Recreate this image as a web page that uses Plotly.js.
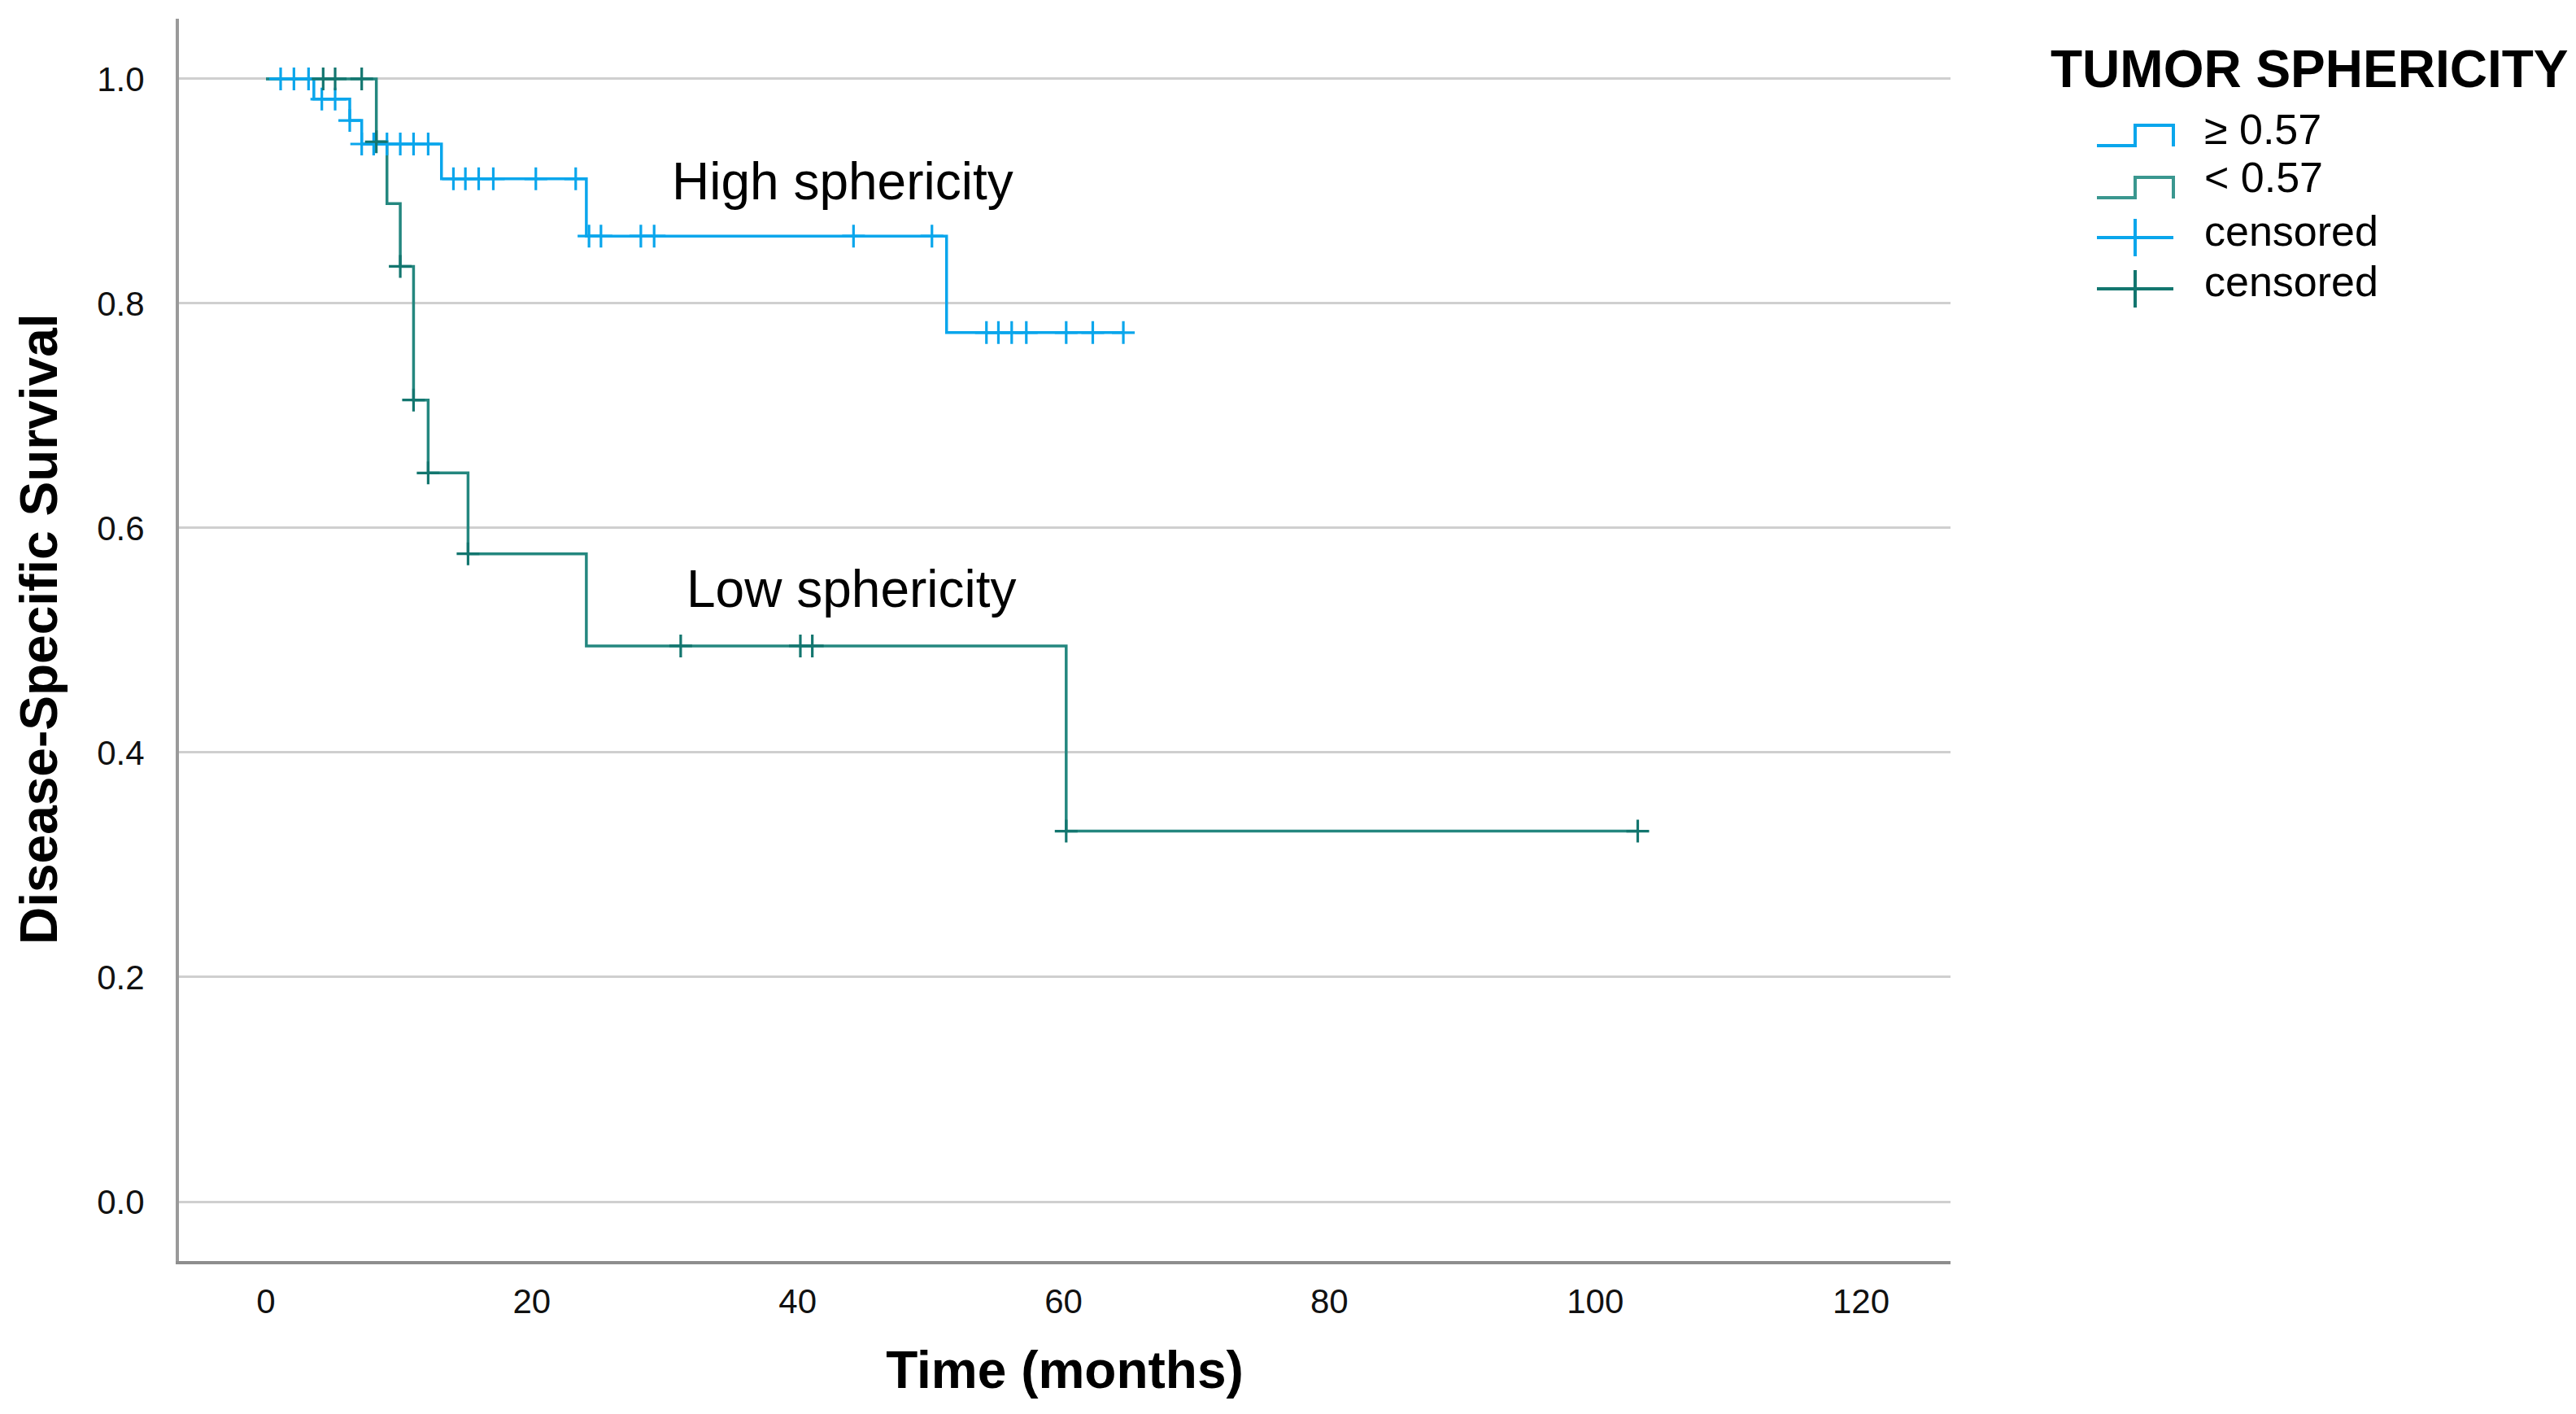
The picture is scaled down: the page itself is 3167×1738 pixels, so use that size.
<!DOCTYPE html>
<html>
<head>
<meta charset="utf-8">
<script src="https://cdn.plot.ly/plotly-3.0.1.min.js"></script>
<style>html,body{margin:0;padding:0;background:#fff;}#chart{width:3167px;height:1738px;}</style>
</head>
<body>
<div id="chart"></div>
<script>
// ---- Data ----
const highTimes = [0, 3.6, 6.3, 7.2, 13.2, 24.1, 51.2, 64.5];
const highSurv  = [1, 0.982, 0.963, 0.942, 0.911, 0.860, 0.774, 0.774];
const highCensorTimes = [1.1, 2.1, 3.2, 4.2, 5.2, 6.3, 7.2, 8.1, 9.1, 10.1, 11.1, 12.2,
  14.1, 15.0, 16.0, 17.1, 20.3, 23.3, 24.3, 25.2, 28.2, 29.2, 44.2, 50.1,
  54.2, 55.1, 56.1, 57.2, 60.2, 62.2, 64.5];

const lowTimes = [0, 8.3, 9.1, 10.1, 11.1, 12.2, 15.2, 24.1, 60.2, 103.2];
const lowSurv  = [1, 0.944, 0.889, 0.833, 0.714, 0.649, 0.577, 0.495, 0.330, 0.330];
const lowCensorTimes = [4.3, 5.2, 7.2, 8.3, 10.1, 11.1, 12.2, 15.2, 31.2, 40.2, 41.1, 60.2, 103.2];

const groupLabels = ["\u2265 0.57", "< 0.57"];
const censorLabel = "censored";
const legendTitle = "TUMOR SPHERICITY";
const curveLabels = ["High sphericity", "Low sphericity"];
const xTicks = [0, 20, 40, 60, 80, 100, 120];
const yTicks = [0.0, 0.2, 0.4, 0.6, 0.8, 1.0];

// ---- helpers ----
function survAt(times, surv, t) {
  let s = surv[0];
  for (let i = 0; i < times.length; i++) { if (times[i] <= t + 1e-9) s = surv[i]; }
  return s;
}
function censorXY(ct, times, surv) {
  return {x: ct.slice(), y: ct.map(t => survAt(times, surv, t))};
}

const BLUE = "#0AA6EC";
const TEAL = "#24877F";
const TEAL_LEG = "#3A978F";
const TEAL_DARK = "#13766F";
const TXT = "Liberation Sans, Arial, sans-serif";

// plot area in pixels (for paper-coordinate legend placement)
const W = 3167, H = 1738, ML = 220, MR = 769, MT = 23, MB = 188;
const PW = W - ML - MR, PH = H - MT - MB;
const px = v => (v - ML) / PW;
const py = v => (H - MB - v) / PH;

const hc = censorXY(highCensorTimes, highTimes, highSurv);
const lc = censorXY(lowCensorTimes, lowTimes, lowSurv);

const traces = [
  {x: highTimes, y: highSurv, type: "scatter", mode: "lines", name: groupLabels[0],
   line: {color: BLUE, width: 3.5, shape: "hv"}},
  {x: lowTimes, y: lowSurv, type: "scatter", mode: "lines", name: groupLabels[1],
   line: {color: TEAL, width: 3.5, shape: "hv"}},
  {x: hc.x, y: hc.y, type: "scatter", mode: "markers", name: censorLabel,
   marker: {symbol: "cross-thin", size: 20, color: BLUE, line: {color: BLUE, width: 3.2}}},
  {x: lc.x, y: lc.y, type: "scatter", mode: "markers", name: censorLabel,
   marker: {symbol: "cross-thin", size: 20, color: TEAL_DARK, line: {color: TEAL_DARK, width: 3.2}}}
];

// ---- custom legend (glyphs as paper shapes) ----
const gx0 = 2578, gxm = 2625, gx1 = 2672, tx = 2708;
function stepPath(lowY, highY) {
  return `M ${px(gx0)} ${py(lowY)} L ${px(gxm)} ${py(lowY)} L ${px(gxm)} ${py(highY)} L ${px(gx1)} ${py(highY)} L ${px(gx1)} ${py(lowY + 1)}`;
}
const legendShapes = [
  {type: "path", xref: "paper", yref: "paper", path: stepPath(179, 154), line: {color: BLUE, width: 4}},
  {type: "path", xref: "paper", yref: "paper", path: stepPath(243, 218), line: {color: TEAL_LEG, width: 4}},
  {type: "line", xref: "paper", yref: "paper", x0: px(gx0), x1: px(gx1), y0: py(292), y1: py(292), line: {color: BLUE, width: 4}},
  {type: "line", xref: "paper", yref: "paper", x0: px(gxm), x1: px(gxm), y0: py(269), y1: py(315), line: {color: BLUE, width: 4}},
  {type: "line", xref: "paper", yref: "paper", x0: px(gx0), x1: px(gx1), y0: py(355), y1: py(355), line: {color: TEAL_DARK, width: 4}},
  {type: "line", xref: "paper", yref: "paper", x0: px(gxm), x1: px(gxm), y0: py(332), y1: py(378), line: {color: TEAL_DARK, width: 4}}
];
const legTexts = [groupLabels[0], groupLabels[1], censorLabel, censorLabel];
const legY = [159, 218, 284, 346];
const legendAnn = legTexts.map((t, i) => ({
  x: px(tx), y: py(legY[i]), xref: "paper", yref: "paper", text: t, showarrow: false,
  xanchor: "left", yanchor: "middle", font: {family: TXT, size: 52, color: "#000"}
}));

const layout = {
  width: W, height: H,
  paper_bgcolor: "#fff", plot_bgcolor: "#fff",
  margin: {l: ML, r: MR, t: MT, b: MB},
  showlegend: false,
  xaxis: {
    range: [-6.55, 126.73], tickvals: xTicks, ticktext: xTicks.map(String),
    showgrid: false, zeroline: false, showline: true, linecolor: "#8E8E8E", linewidth: 4,
    ticks: "", ticklabelstandoff: 10,
    tickfont: {family: TXT, size: 42, color: "#111"},
    title: {text: "Time (months)", font: {family: TXT, size: 64, color: "#000", weight: "bold"}, standoff: 40}
  },
  yaxis: {
    range: [-0.0529, 1.0536], tickvals: yTicks, ticktext: yTicks.map(v => v.toFixed(1)),
    showgrid: true, gridcolor: "#CFCFCF", gridwidth: 3, zeroline: false,
    showline: true, linecolor: "#9A9A9A", linewidth: 4,
    ticks: "", ticklabelstandoff: 30,
    tickfont: {family: TXT, size: 42, color: "#111"}
  },
  shapes: legendShapes,
  annotations: [
    {x: 30.4, y: 0.909, xref: "x", yref: "y", text: curveLabels[0], showarrow: false,
     xanchor: "left", yanchor: "middle", font: {family: TXT, size: 64, color: "#000"}},
    {x: 31.5, y: 0.546, xref: "x", yref: "y", text: curveLabels[1], showarrow: false,
     xanchor: "left", yanchor: "middle", font: {family: TXT, size: 64, color: "#000"}},
    {x: px(2519), y: py(85), xref: "paper", yref: "paper", text: "<b>" + legendTitle + "</b>", showarrow: false,
     xanchor: "left", yanchor: "middle", font: {family: TXT, size: 64, color: "#000"}},
    {x: px(48), y: py(773), xref: "paper", yref: "paper", text: "<b>Disease-Specific Survival</b>", showarrow: false,
     textangle: -90, xanchor: "center", yanchor: "middle", font: {family: TXT, size: 64, color: "#000"}}
  ].concat(legendAnn)
};

Plotly.newPlot("chart", traces, layout, {displayModeBar: false, staticPlot: true});
</script>
</body>
</html>
